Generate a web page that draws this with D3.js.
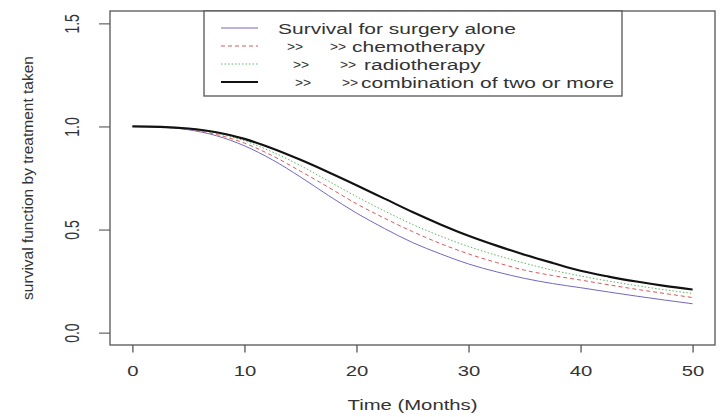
<!DOCTYPE html>
<html>
<head>
<meta charset="utf-8">
<script src="https://cdn.jsdelivr.net/npm/d3@7"></script>
<style>
  body { margin: 0; background: #fff; }
  svg text { font-family: "Liberation Sans", Arial, sans-serif; fill: #333; }
</style>
</head>
<body>
<div class="canvas"></div>
<script>
// values
const months = [0, 2.5, 5, 7.5, 10, 12.5, 15, 17.5, 20, 22.5, 25, 27.5, 30, 32.5, 35, 37.5, 40, 42.5, 45, 47.5, 50];
const surgery = [1.0, 0.997, 0.984, 0.955, 0.906, 0.838, 0.755, 0.665, 0.58, 0.505, 0.437, 0.382, 0.333, 0.295, 0.263, 0.238, 0.218, 0.197, 0.177, 0.158, 0.14];
const chemo = [1.0, 0.997, 0.986, 0.961, 0.919, 0.858, 0.783, 0.705, 0.625, 0.555, 0.49, 0.432, 0.382, 0.34, 0.303, 0.277, 0.255, 0.232, 0.21, 0.19, 0.17];
const radio = [1.0, 0.998, 0.988, 0.967, 0.93, 0.876, 0.81, 0.735, 0.66, 0.59, 0.525, 0.468, 0.418, 0.375, 0.337, 0.303, 0.275, 0.25, 0.228, 0.208, 0.19];
const combination = [1.0, 0.998, 0.99, 0.972, 0.94, 0.893, 0.838, 0.778, 0.715, 0.65, 0.585, 0.525, 0.47, 0.422, 0.378, 0.338, 0.3, 0.272, 0.248, 0.227, 0.209];

const xTicks = [0, 10, 20, 30, 40, 50];
const yTicks = [0, 0.5, 1.0, 1.5];
const legendLabels = ['Survival for surgery alone', 'chemotherapy', 'radiotherapy', 'combination of two or more'];
const legendArrows = ['', '>>', '>>', '>>'];

// styles + legend layout per series
const series = [
    { values: surgery, color: '#7467c0', width: 1, dash: null, arrowX: [], textX: 278 },
    { values: chemo, color: '#d85a5a', width: 1, dash: '4,3', arrowX: [287, 330], textX: 352 },
    { values: radio, color: '#5cb85c', width: 1, dash: '1.5,2', arrowX: [293, 340], textX: 364 },
    { values: combination, color: '#111', width: 2.2, dash: null, arrowX: [295, 342], textX: 361 }
];

const stretch = 1.4; // text in the picture is wide

const svg = d3.select('.canvas')
    .append('svg')
    .attr('width', 723)
    .attr('height', 417);

const x = d3.scaleLinear().domain([-2, 52]).range([110, 715]);
const y = d3.scaleLinear().domain([-0.06, 1.56]).range([345, 11]);

// curves
const line = d3.line()
    .x((d, i) => x(months[i]))
    .y(d => y(d))
    .curve(d3.curveMonotoneX);

svg.selectAll('path.curve')
    .data(series)
    .enter()
    .append('path')
    .attr('class', 'curve')
    .attr('d', d => line(d.values))
    .attr('fill', 'none')
    .attr('stroke', d => d.color)
    .attr('stroke-width', d => d.width)
    .attr('stroke-dasharray', d => d.dash);

// box
svg.append('rect')
    .attr('x', x.range()[0])
    .attr('y', y.range()[1])
    .attr('width', x.range()[1] - x.range()[0])
    .attr('height', y.range()[0] - y.range()[1])
    .attr('fill', 'none')
    .attr('stroke', '#555')
    .attr('stroke-width', 1.3);

// axes
const xAxisGroup = svg.append('g')
    .attr('transform', `translate(0, ${y.range()[0]})`)
    .call(d3.axisBottom(x).tickValues(xTicks).tickSize(7.5).tickSizeOuter(0).tickPadding(14));
xAxisGroup.select('.domain').remove();
xAxisGroup.selectAll('line').attr('stroke', '#555').attr('stroke-width', 1.3);
xAxisGroup.selectAll('text')
    .attr('font-size', 14)
    .attr('fill', '#444')
    .attr('transform', `scale(1.45,1)`);

const yAxisGroup = svg.append('g')
    .attr('transform', `translate(${x.range()[0]}, 0)`)
    .call(d3.axisLeft(y).tickValues(yTicks).tickSize(11).tickSizeOuter(0).tickFormat(d3.format('.1f')));
yAxisGroup.select('.domain').remove();
yAxisGroup.selectAll('line').attr('stroke', '#555').attr('stroke-width', 1.1);
yAxisGroup.selectAll('text')
    .attr('font-size', 14)
    .attr('fill', '#444')
    .attr('x', null)
    .attr('dy', null)
    .attr('text-anchor', 'middle')
    .attr('transform', `translate(-31,0) scale(1.45,1) rotate(-90)`);

// axis titles
svg.append('text')
    .attr('transform', `translate(${(x.range()[0] + x.range()[1]) / 2}, 410) scale(1.45,1)`)
    .attr('text-anchor', 'middle')
    .attr('font-size', 14)
    .text('Time (Months)');

svg.append('text')
    .attr('transform', `translate(33, ${(y.range()[0] + y.range()[1]) / 2}) rotate(-90)`)
    .attr('text-anchor', 'middle')
    .attr('font-size', 15.5)
    .text('survival function by treatment taken');

// legend
const legend = svg.append('g');
legend.append('rect')
    .attr('x', 204)
    .attr('y', 11)
    .attr('width', 418)
    .attr('height', 85)
    .attr('fill', '#fff')
    .attr('stroke', '#555')
    .attr('stroke-width', 1.3);

const rows = legend.selectAll('g.row')
    .data(series)
    .enter()
    .append('g')
    .attr('class', 'row')
    .attr('transform', (d, i) => `translate(0, ${28 + i * 18})`);

rows.append('line')
    .attr('x1', 221)
    .attr('x2', 258)
    .attr('stroke', d => d.color)
    .attr('stroke-width', d => d.width)
    .attr('stroke-dasharray', d => d.dash);

rows.selectAll('text.arrow')
    .data((d, i) => d.arrowX.map(ax => ({ ax, t: legendArrows[i] })))
    .enter()
    .append('text')
    .attr('class', 'arrow')
    .attr('transform', d => `translate(${d.ax}, 4.5) scale(1.15,1)`)
    .attr('font-size', 12)
    .attr('fill', '#555')
    .text(d => d.t);

rows.append('text')
    .attr('transform', d => `translate(${d.textX}, 5.5) scale(${stretch},1)`)
    .attr('font-size', 15)
    .text((d, i) => legendLabels[i]);
</script>
</body>
</html>
